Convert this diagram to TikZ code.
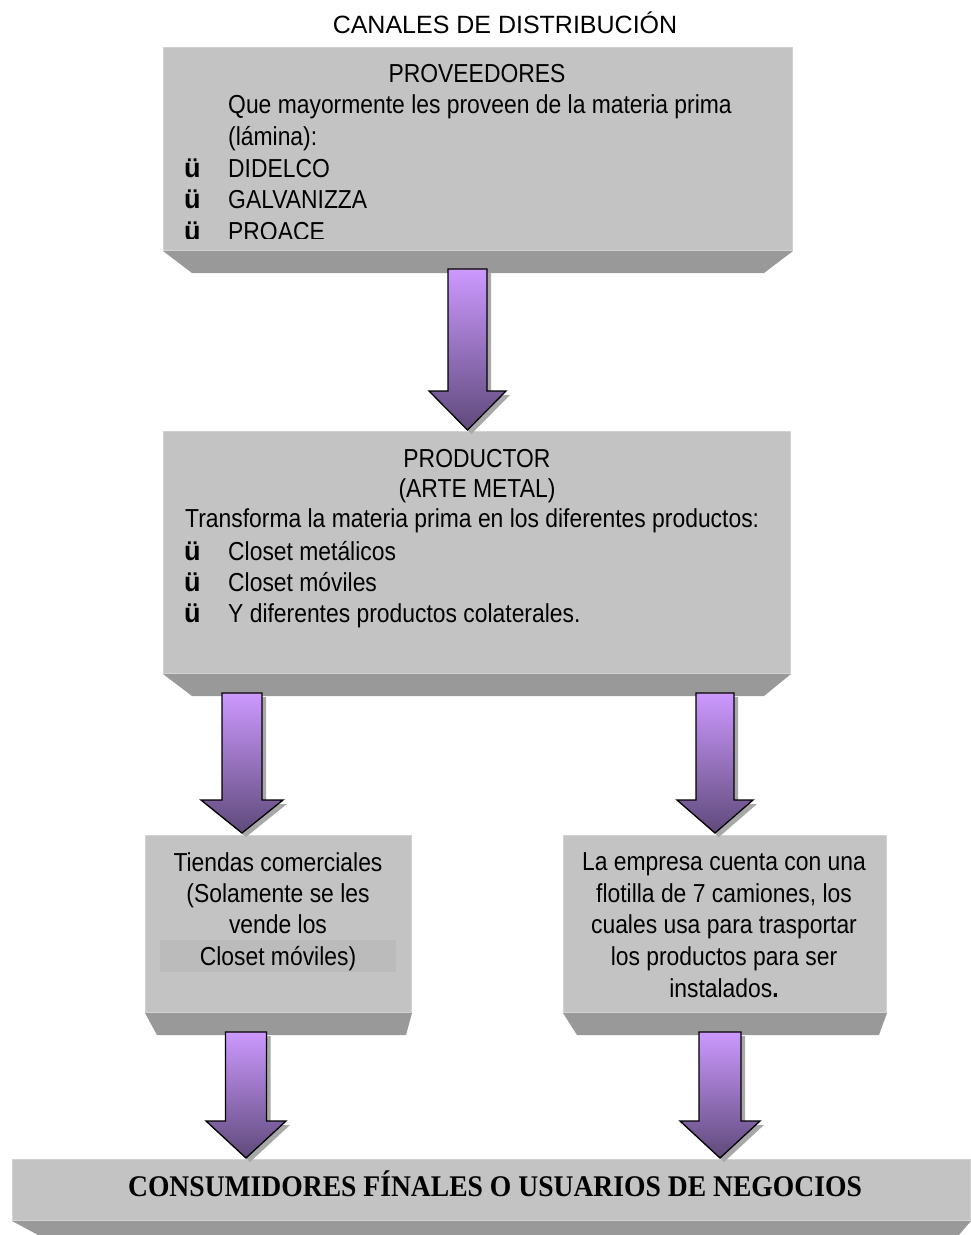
\documentclass[tikz,border=0pt]{standalone}
\usepackage{fontspec}
\setmainfont{Liberation Sans}
\newfontfamily\estrecha[FakeStretch=0.88]{Liberation Sans}
\newfontfamily\serifa[FakeStretch=0.92]{Liberation Serif}
\usetikzlibrary{calc}

\definecolor{cara}{HTML}{C3C3C3}
\definecolor{bisel}{HTML}{999999}
\definecolor{borde}{HTML}{D2D2D2}
\definecolor{banda}{HTML}{BBBBBB}
\definecolor{lila}{HTML}{CC99FF}
\definecolor{morado}{HTML}{5F4A7B}
\definecolor{sombra}{HTML}{A8A8A8}

\tikzset{
    caja/.style={rectangle, fill=cara, draw=borde, line width=1pt, inner sep=0pt, anchor=north west},
    texto/.style={inner sep=0pt, anchor=base west, font=\estrecha\fontsize{26}{30}\selectfont},
    centrado/.style={texto, anchor=base},
    vineta/.style={inner sep=0pt, anchor=base west, font=\bfseries\fontsize{27}{30}\selectfont},
}

% flecha gruesa: inicio, punta, medio cuerpo, media cabeza, largo cabeza
\newcommand{\flecha}[5]{%
    \fill[sombra] let \p1=(#1), \p2=(#2) in
        (\x1-#3+4pt,\y1-4pt) -- (\x1+#3+4pt,\y1-4pt) -- (\x1+#3+4pt,\y2+#5-4pt)
        -- (\x1+#4+4pt,\y2+#5-4pt) -- (\x2+4pt,\y2-4pt) -- (\x1-#4+4pt,\y2+#5-4pt)
        -- (\x1-#3+4pt,\y2+#5-4pt) -- cycle;
    \shade[top color=lila, bottom color=morado, draw=black, line width=1.3pt, line join=miter]
        let \p1=(#1), \p2=(#2) in
        (\x1-#3,\y1) -- (\x1+#3,\y1) -- (\x1+#3,\y2+#5) -- (\x1+#4,\y2+#5)
        -- (\x2,\y2) -- (\x1-#4,\y2+#5) -- (\x1-#3,\y2+#5) -- cycle;
}

\begin{document}
\begin{tikzpicture}[x=1pt, y=-1pt]
    \useasboundingbox[fill=white] (0,0) rectangle (970,1235);

    % titulo
    \node[inner sep=0pt, anchor=base, font=\fontsize{25}{30}\selectfont] (titulo) at (505,33) {CANALES DE DISTRIBUCIÓN};

    % proveedores
    \node[caja, minimum width=629pt, minimum height=203pt] (prov) at (163,47) {};
    \fill[bisel] (prov.south west) -- (prov.south east) -- ($(prov.south east)+(-29,22)$) -- ($(prov.south west)+(29,22)$) -- cycle;
    \begin{scope}
        \clip (163,47) rectangle (792,238.5);
        \node[centrado] (prov1) at (477,82) {PROVEEDORES};
        \node[texto] (prov2) at (228,113) {Que mayormente les proveen de la materia prima};
        \node[texto] (prov3) at (228,145) {(lámina):};
        \foreach \t/\y in {DIDELCO/177, GALVANIZZA/208, PROACE/240} {
            \node[vineta] (vp\y) at (184,\y) {ü};
            \node[texto] (tp\y) at (228,\y) {\t};
        }
    \end{scope}

    % productor
    \node[caja, minimum width=627pt, minimum height=242pt] (prod) at (163,431) {};
    \fill[bisel] (prod.south west) -- (prod.south east) -- ($(prod.south east)+(-27,22)$) -- ($(prod.south west)+(29,22)$) -- cycle;
    \node[centrado] (prod1) at (477,467) {PRODUCTOR};
    \node[centrado] (prod2) at (477,497) {(ARTE METAL)};
    \node[texto] (prod3) at (185,527) {Transforma la materia prima en los diferentes productos:};
    \foreach \t/\y in {Closet metálicos/560, Closet móviles/591, Y diferentes productos colaterales./622} {
        \node[vineta] (vq\y) at (184,\y) {ü};
        \node[texto] (tq\y) at (228,\y) {\t};
    }

    % tiendas
    \node[caja, minimum width=266pt, minimum height=177pt] (tiendas) at (145,835) {};
    \fill[bisel] (tiendas.south west) -- (tiendas.south east) -- ($(tiendas.south east)+(-6,22)$) -- ($(tiendas.south west)+(12,22)$) -- cycle;
    \fill[banda] (160,940) rectangle (396,972);
    \node[centrado] (ti1) at (278,871) {Tiendas comerciales};
    \node[centrado] (ti2) at (278,902) {(Solamente se les};
    \node[centrado] (ti3) at (278,933) {vende los};
    \node[centrado] (ti4) at (278,965) {Closet móviles)};

    % empresa
    \node[caja, minimum width=323pt, minimum height=177pt] (empresa) at (563,835) {};
    \fill[bisel] (empresa.south west) -- (empresa.south east) -- ($(empresa.south east)+(-8,22)$) -- ($(empresa.south west)+(14,22)$) -- cycle;
    \node[centrado] (em1) at (724,870) {La empresa cuenta con una};
    \node[centrado] (em2) at (724,902) {flotilla de 7 camiones, los};
    \node[centrado] (em3) at (724,933) {cuales usa para trasportar};
    \node[centrado] (em4) at (724,965) {los productos para ser};
    \node[centrado] (em5) at (724,997) {instalados\textbf{.}};

    % consumidores
    \node[caja, minimum width=958pt, minimum height=61pt] (consum) at (12,1159) {};
    \fill[bisel] (consum.south west) -- (consum.south east) -- ($(consum.south east)+(-13,15)$) -- ($(consum.south west)+(28,15)$) -- cycle;
    \node[inner sep=0pt, anchor=base, font=\serifa\bfseries\fontsize{30}{34}\selectfont] (con1) at (495,1196) {CONSUMIDORES FÍNALES O USUARIOS DE NEGOCIOS};

    % flechas
    \coordinate (f1a) at (467.5,269);  \coordinate (f1b) at (467.5,430);
    \coordinate (f2a) at (242,693);    \coordinate (f2b) at (242,833);
    \coordinate (f3a) at (715,693);    \coordinate (f3b) at (715,833);
    \coordinate (f4a) at (246,1032);   \coordinate (f4b) at (246,1158);
    \coordinate (f5a) at (720,1032);   \coordinate (f5b) at (720,1158);
    \flecha{f1a}{f1b}{19.5pt}{38.5pt}{39pt}
    \flecha{f2a}{f2b}{20pt}{41pt}{33pt}
    \flecha{f3a}{f3b}{19pt}{38pt}{33pt}
    \flecha{f4a}{f4b}{20.5pt}{40pt}{37pt}
    \flecha{f5a}{f5b}{21pt}{40pt}{37pt}
\end{tikzpicture}
\end{document}
